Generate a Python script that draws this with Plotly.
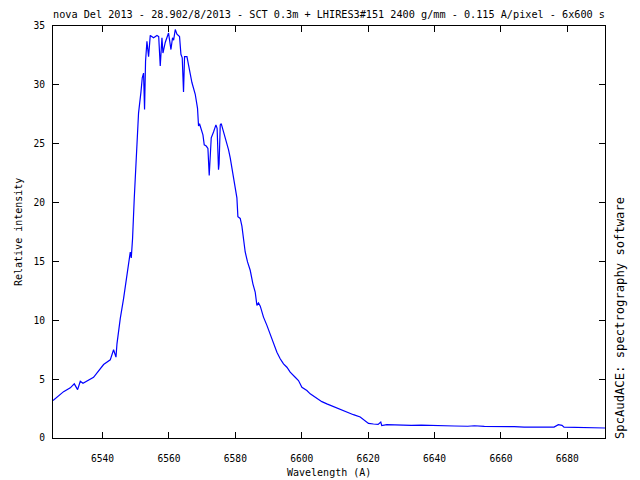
import plotly.graph_objects as go

wavelength = [
    6525.06, 6528.25, 6530.27, 6531.47, 6532.47, 6533.28, 6534.09, 6536.29, 6537.28,
    6540.30, 6542.31, 6543.31, 6544.03, 6544.33, 6544.81, 6545.32, 6546.32, 6547.13,
    6547.82, 6548.34, 6548.64, 6549.03, 6549.54, 6550.05, 6550.35, 6550.83, 6551.56,
    6551.95, 6552.34, 6552.64, 6552.94, 6553.36, 6553.85, 6554.36, 6555.35, 6556.38,
    6556.90, 6557.37, 6557.88, 6558.18, 6558.87, 6559.39, 6559.87, 6560.59, 6561.07,
    6561.40, 6561.89, 6562.40, 6563.18, 6563.60, 6563.99, 6564.38, 6564.69, 6565.41,
    6566.40, 6566.91, 6567.91, 6568.60, 6568.90, 6569.20, 6570.23, 6570.62, 6571.22,
    6571.73, 6572.12, 6572.42, 6572.73, 6573.42, 6574.14, 6574.50, 6574.92, 6575.10,
    6575.44, 6575.74, 6576.25, 6577.24, 6577.93, 6578.45, 6578.96, 6579.44, 6579.95,
    6580.46, 6580.76, 6581.46, 6581.97, 6582.30, 6582.96, 6583.66, 6584.47, 6585.28,
    6585.97, 6586.49, 6586.97, 6587.50, 6588.47, 6589.50, 6590.49, 6591.48, 6592.51,
    6593.50, 6594.50, 6595.52, 6596.51, 6598.02, 6599.01, 6600.04, 6601.54, 6602.54,
    6604.04, 6606.06, 6607.56, 6609.55, 6611.57, 6613.59, 6615.57, 6617.60, 6618.60,
    6620.10, 6621.60, 6623.00, 6623.80, 6624.10, 6625.60, 6628.00, 6630.00, 6633.00,
    6636.00, 6640.00, 6643.00, 6646.00, 6650.00, 6652.00, 6655.00, 6658.00, 6661.00,
    6664.00, 6667.00, 6670.00, 6673.00, 6676.00, 6677.30, 6678.40, 6679.00, 6682.00,
    6685.00, 6688.00, 6691.35,
]

intensity = [
    3.18, 3.94, 4.26, 4.60, 4.11, 4.82, 4.65, 5.02, 5.16,
    6.24, 6.64, 7.50, 6.87, 8.00, 9.14, 10.14, 11.84, 13.54,
    14.68, 15.80, 15.30, 16.95, 20.36, 22.90, 25.20, 27.60, 29.40,
    30.60, 31.00, 27.90, 32.00, 33.70, 32.40, 34.20, 34.00, 34.20,
    34.10, 31.60, 34.00, 32.70, 33.60, 34.10, 34.40, 33.00, 34.00,
    33.80, 34.70, 34.30, 34.10, 32.60, 32.30, 29.40, 32.40, 32.40,
    30.90, 30.20, 29.20, 28.00, 26.50, 26.70, 25.75, 24.90, 24.80,
    24.60, 22.30, 23.50, 25.50, 26.00, 26.60, 26.30, 22.80, 23.30,
    26.60, 26.70, 26.20, 25.30, 24.50, 23.80, 22.90, 22.10, 21.20,
    20.40, 18.80, 18.65, 18.00, 17.10, 15.80, 14.96, 14.25, 13.10,
    12.40, 11.27, 11.47, 11.20, 10.27, 9.57, 8.86, 8.00, 7.29,
    6.73, 6.30, 6.01, 5.59, 5.16, 4.88, 4.31, 4.03, 3.75,
    3.46, 3.09, 2.90, 2.67, 2.39, 2.18, 1.98, 1.78, 1.53,
    1.24, 1.19, 1.16, 1.36, 1.05, 1.13, 1.10, 1.12, 1.08,
    1.10, 1.05, 1.06, 1.02, 1.00, 1.04, 0.98, 0.99, 0.95,
    0.97, 0.93, 0.94, 0.92, 0.93, 1.13, 1.08, 0.92, 0.90,
    0.88, 0.87, 0.85,
]

x_ticks = [6540, 6560, 6580, 6600, 6620, 6640, 6660, 6680]
y_ticks = [0, 5, 10, 15, 20, 25, 30, 35]

title_text = "nova Del 2013 - 28.902/8/2013 - SCT 0.3m + LHIRES3#151 2400 g/mm - 0.115 A/pixel - 6x600 s"
side_text = "SpcAudACE: spectrography software"
x_title = "Wavelength (A)"
y_title = "Relative intensity"

FONT = "DejaVu Sans Mono"

fig = go.Figure()
fig.add_trace(go.Scatter(
    x=wavelength, y=intensity, mode="lines",
    line=dict(color="#0000FF", width=1.2),
    showlegend=False, hoverinfo="skip",
))

axis_common = dict(
    showgrid=False, zeroline=False, showline=True, linecolor="black", linewidth=1,
    mirror="allticks", ticks="inside", ticklen=6, tickcolor="black", tickwidth=1,
    tickfont=dict(family=FONT, size=9.6, color="black"),
)

fig.update_layout(
    width=632, height=472,
    margin=dict(l=45, r=35, t=18, b=42, autoexpand=False),
    paper_bgcolor="white", plot_bgcolor="white",
    xaxis=dict(range=[6525.06, 6691.35], tickvals=x_ticks, ticklabelstandoff=11,
               **axis_common),
    yaxis=dict(range=[0, 35], tickvals=y_ticks, ticklabelstandoff=5,
               **axis_common),
    annotations=[
        dict(text=title_text, xref="paper", yref="paper", x=0.5, y=1, yshift=12,
             xanchor="center", yanchor="middle", showarrow=False,
             font=dict(family=FONT, size=10.2, color="black")),
        dict(text=x_title, xref="paper", yref="paper", x=0.5, y=0, yshift=-34,
             xanchor="center", yanchor="middle", showarrow=False,
             font=dict(family=FONT, size=10, color="black")),
        dict(text=y_title, xref="paper", yref="paper", x=0, xshift=-35, y=0.5,
             xanchor="center", yanchor="middle", textangle=-90, showarrow=False,
             font=dict(family=FONT, size=10, color="black")),
        dict(text=side_text, xref="paper", yref="paper", x=1, xshift=15, y=0, yshift=-3,
             xanchor="center", yanchor="bottom", textangle=-90, showarrow=False,
             font=dict(family=FONT, size=12.2, color="black")),
    ],
)

fig.write_html("out.html")
